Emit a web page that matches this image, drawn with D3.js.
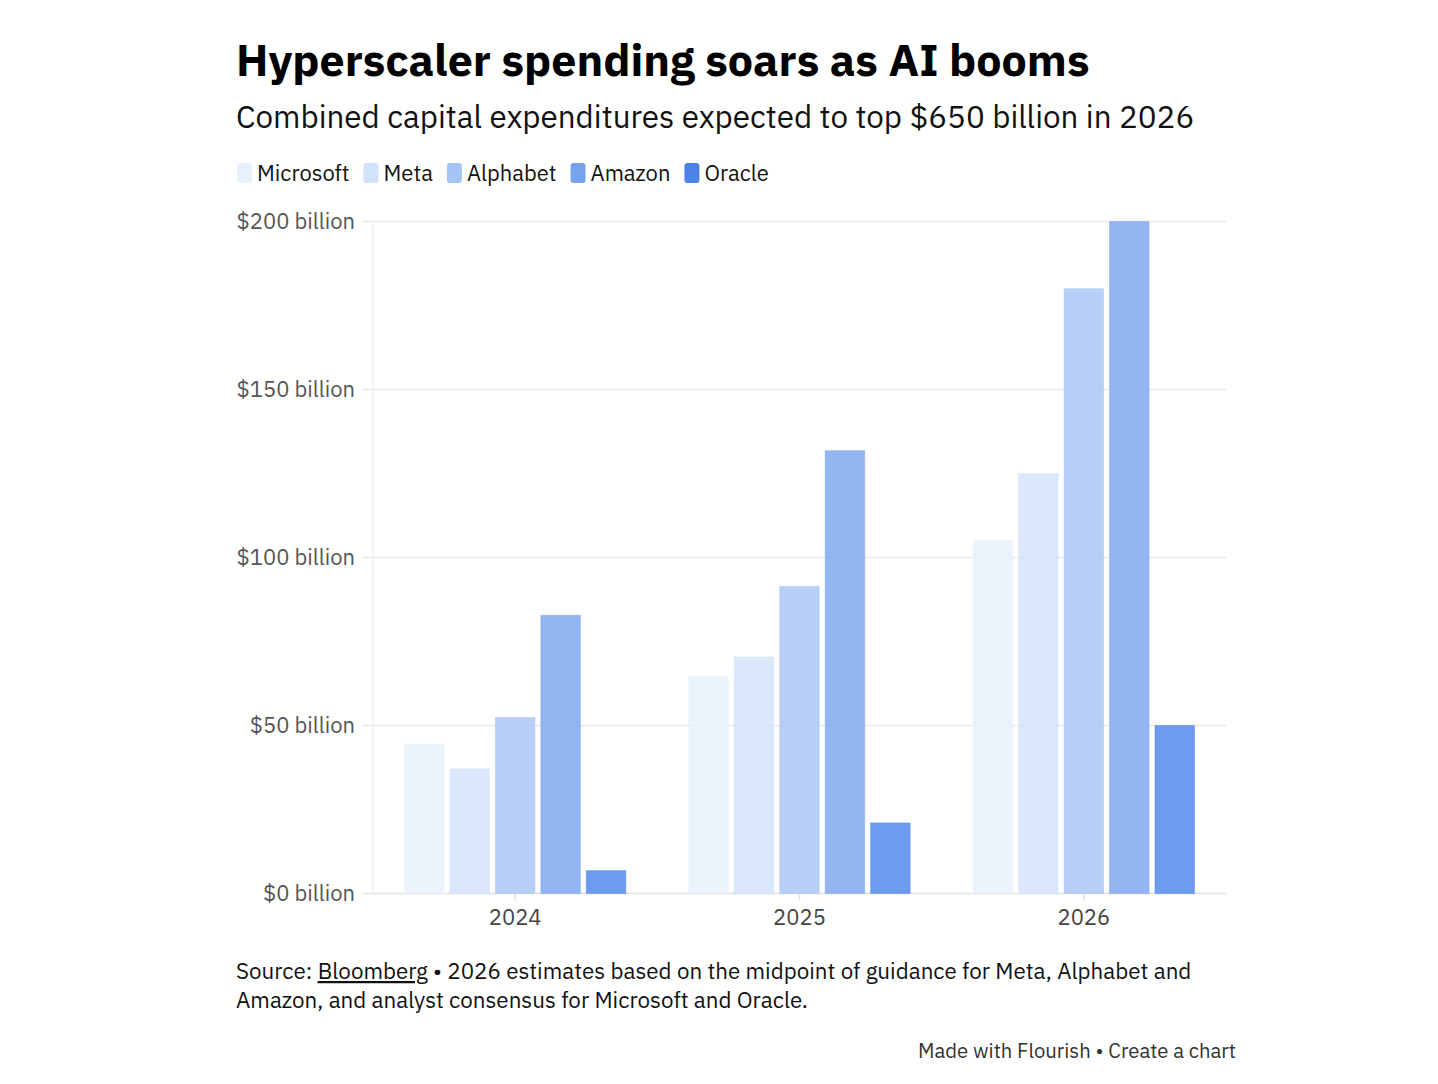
<!DOCTYPE html>
<html>
<head>
<meta charset="utf-8">
<script src="https://cdn.jsdelivr.net/npm/d3@7"></script>
<style>
  body { margin: 0; background: #fff; }
  svg { display: block; font-family: "IBM Plex Sans", Roboto, "Noto Sans", sans-serif; }
</style>
</head>
<body>
<svg id="chart"></svg>
<script>
// Chart data (US$ billion)
const years = ["2024", "2025", "2026"];
const companies = ["Microsoft", "Meta", "Alphabet", "Amazon", "Oracle"];
const microsoft = [44.5, 64.5, 105];
const meta = [37.1, 70.4, 125];
const alphabet = [52.4, 91.4, 180];
const amazon = [82.8, 131.8, 200];
const oracle = [6.8, 21, 50];
const yTicks = [0, 50, 100, 150, 200];
const colors = ["#e8f0fc", "#d2e2fa", "#a6c4f5", "#78a4ef", "#4a82ea"];

(() => {
    const width = 1438;
    const height = 1084;

    const svg = d3.select("#chart")
        .attr("width", width)
        .attr("height", height);

    const series = [microsoft, meta, alphabet, amazon, oracle];

    // build rows: one per year, one value per company
    const rows = years.map((year, i) => ({
        year,
        values: companies.map((c, j) => ({ company: c, value: series[j][i], color: colors[j] }))
    }));

    const left = 373, right = 1226, top = 221.5, bottom = 893.5;

    const x = d3.scaleBand()
        .domain(years)
        .range([left, right]);

    const xInner = d3.scaleBand()
        .domain(companies)
        .range([31.5, x.bandwidth() - 31.5])
        .paddingInner(0.13);

    const y = d3.scaleLinear()
        .domain([0, 200])
        .range([bottom, top]);

    // Title & subtitle
    svg.append("text")
        .attr("x", 236)
        .attr("y", 76)
        .attr("font-size", "44.8px")
        .attr("font-weight", "bold")
        .attr("fill", "#000")
        .text("Hyperscaler spending soars as AI booms");

    svg.append("text")
        .attr("x", 236)
        .attr("y", 128)
        .attr("font-size", "31.4px")
        .attr("fill", "#111")
        .text("Combined capital expenditures expected to top $650 billion in 2026");

    // Legend
    const legend = svg.append("g").attr("class", "legend");
    let lx = 237;
    companies.forEach((c, j) => {
        legend.append("rect")
            .attr("x", lx)
            .attr("y", 163)
            .attr("width", 15)
            .attr("height", 20)
            .attr("rx", 3)
            .attr("fill", colors[j]);
        const t = legend.append("text")
            .attr("x", lx + 20)
            .attr("y", 181)
            .attr("font-size", "22px")
            .attr("fill", "#111")
            .text(c);
        lx += 20 + t.node().getComputedTextLength() + 14;
    });

    // Gridlines + y labels
    const grid = svg.append("g").attr("class", "grid");
    grid.selectAll("line")
        .data(yTicks)
        .enter()
        .append("line")
        .attr("x1", left - 11)
        .attr("x2", right)
        .attr("y1", d => y(d))
        .attr("y2", d => y(d))
        .attr("stroke", d => d === 0 ? "#e2e2e2" : "#ebebeb")
        .attr("stroke-width", 1.5);

    grid.selectAll("text")
        .data(yTicks)
        .enter()
        .append("text")
        .attr("x", 355)
        .attr("y", d => y(d) + 7.5)
        .attr("text-anchor", "end")
        .attr("font-size", "22px")
        .attr("fill", "#555")
        .text(d => `$${d} billion`);

    // y axis line
    svg.append("line")
        .attr("x1", left)
        .attr("x2", left)
        .attr("y1", top)
        .attr("y2", bottom)
        .attr("stroke", "#efefef")
        .attr("stroke-width", 1.5);

    // x axis ticks + labels
    const xAxis = svg.append("g")
        .attr("transform", `translate(0,${bottom})`)
        .call(d3.axisBottom(x).tickSize(7).tickPadding(9));
    xAxis.select(".domain").remove();
    xAxis.selectAll(".tick line").attr("stroke", "#e2e2e2").attr("stroke-width", 1.5);
    xAxis.selectAll(".tick text")
        .attr("font-size", "22px")
        .attr("font-family", "IBM Plex Sans, Roboto, Noto Sans, sans-serif")
        .attr("fill", "#444");

    // Bars
    const groups = svg.append("g")
        .attr("class", "bars")
        .selectAll("g")
        .data(rows)
        .enter()
        .append("g")
        .attr("transform", d => `translate(${x(d.year)},0)`);

    groups.selectAll("rect")
        .data(d => d.values)
        .enter()
        .append("rect")
        .attr("x", d => xInner(d.company))
        .attr("width", xInner.bandwidth())
        .attr("y", d => y(d.value))
        .attr("height", d => y(0) - y(d.value))
        .attr("fill", d => d.color)
        .attr("fill-opacity", 0.8)
        .attr("stroke", d => d.color)
        .attr("stroke-opacity", 0.45)
        .attr("stroke-width", 1);

    // Footer
    const src = svg.append("text")
        .attr("x", 236)
        .attr("y", 979)
        .attr("font-size", "22.4px")
        .attr("fill", "#111");
    src.append("tspan").text("Source: ");
    src.append("tspan").attr("text-decoration", "underline").text("Bloomberg");
    src.append("tspan").text(" • 2026 estimates based on the midpoint of guidance for Meta, Alphabet and");

    svg.append("text")
        .attr("x", 236)
        .attr("y", 1008)
        .attr("font-size", "22.4px")
        .attr("fill", "#111")
        .text("Amazon, and analyst consensus for Microsoft and Oracle.");

    svg.append("text")
        .attr("x", 1236)
        .attr("y", 1058)
        .attr("text-anchor", "end")
        .attr("font-size", "20.3px")
        .attr("fill", "#333")
        .text("Made with Flourish • Create a chart");
})();
</script>
</body>
</html>
